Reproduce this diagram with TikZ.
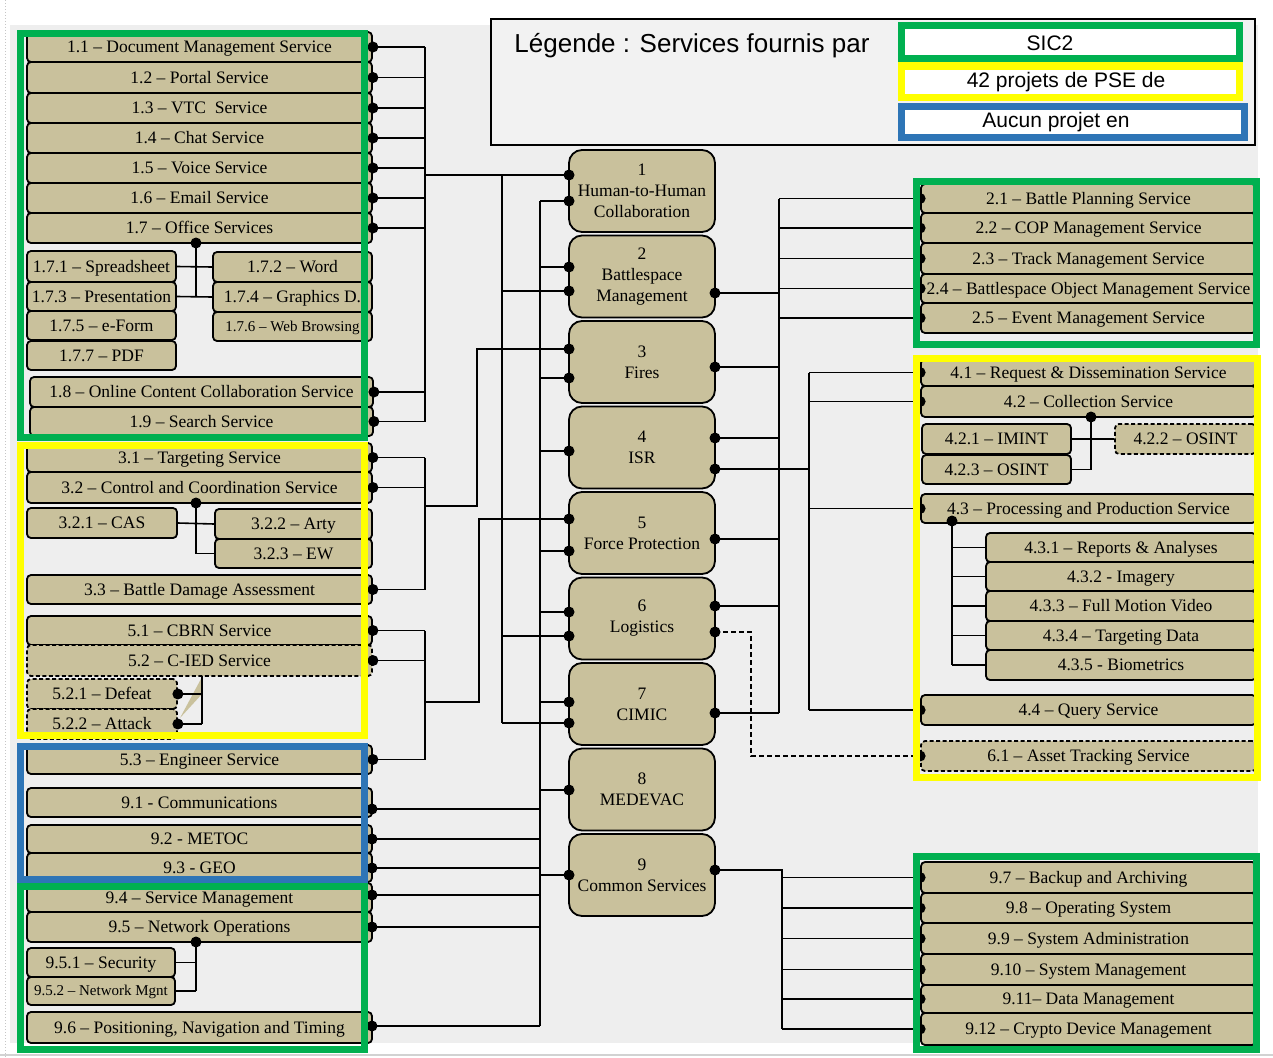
\documentclass[tikz,border=0pt]{standalone}
\usepackage{fontspec}
\setmainfont{Liberation Serif}
\newfontfamily\sansleg{Liberation Sans}
\definecolor{svctan}{RGB}{201,193,156}
\definecolor{bggray}{RGB}{238,238,238}
\definecolor{leggray}{RGB}{242,242,242}
\definecolor{fgreen}{RGB}{0,176,80}
\definecolor{fyellow}{RGB}{255,255,0}
\definecolor{fblue}{RGB}{46,117,182}
\tikzset{
  svcbox/.style={draw=black, line width=1.8pt, fill=svctan, rounded corners=4pt, inner sep=0pt, text height=14pt, text depth=3pt, font=\fontsize{17.5}{20}\selectfont},
  dashedbox/.style={dash pattern=on 4pt off 2.5pt},
  smalltxt/.style={font=\fontsize{15}{18}\selectfont, text height=12pt, text depth=2.5pt},
  cbox/.style={draw=black, line width=1.8pt, fill=svctan, rounded corners=13pt, minimum width=146pt, minimum height=82pt, align=center, inner sep=0pt, font=\fontsize{17.5}{21}\selectfont},
  wire/.style={draw=black, line width=1.6pt},
  dwire/.style={wire, dash pattern=on 5pt off 3pt},
  framebox/.style={line width=7pt},
  legtext/.style={font=\sansleg\fontsize{21}{24}\selectfont, inner sep=0pt},
}
\newcommand\svc[7][]{\node[svcbox,#1,minimum width={(#5-#3)*1pt},minimum height={(#6-#4)*1pt}] (#2) at ({(#3+#5)/2},{(#4+#6)/2}) {#7};}
\newcommand\portdot[1]{\fill (#1) circle (5.5);}
\begin{document}
\begin{tikzpicture}[x=1pt,y=-1pt]
\useasboundingbox (0,0) rectangle (1273,1057);
\fill[white] (0,0) rectangle (1273,1057);
\fill[bggray] (10,25) rectangle (1258,1043);
\draw[gray!45, line width=1pt, dotted] (5,0) -- (5,1057);
\draw[gray!35, line width=1.5pt] (0,1055) -- (1273,1055);

% ---------- legend ----------
\draw[line width=1.3pt, fill=leggray] (491,19) rectangle (1255,145);
\node[font=\sansleg\fontsize{26}{30}\selectfont, inner sep=0pt] (legtitle) at (692,46) {Légende : Services fournis par};
\draw[framebox, draw=fgreen, fill=white] (901.5,25.5) rectangle (1239.5,58.5);
\draw[framebox, draw=fyellow, fill=white] (901.5,66) rectangle (1239.5,97);
\draw[framebox, draw=fblue, fill=white] (901.5,106.5) rectangle (1244.5,137.5);
\node[legtext] (leg1) at (1050,43) {SIC2};
\node[legtext] (leg2) at (1066,82) {42 projets de PSE de};
\node[legtext] (leg3) at (1056,122) {Aucun projet en};

% ---------- left column ----------
\svc{b11}{27}{32}{372}{62}{1.1 – Document Management Service}
\svc{b12}{27}{62}{372}{93}{1.2 – Portal Service}
\svc{b13}{27}{93}{372}{123}{1.3 – VTC\enspace Service}
\svc{b14}{27}{123}{372}{153}{1.4 – Chat Service}
\svc{b15}{27}{153}{372}{183}{1.5 – Voice Service}
\svc{b16}{27}{183}{372}{213}{1.6 – Email Service}
\svc{b17}{27}{213}{372}{243}{1.7 – Office Services}
\svc{b171}{27}{251}{176}{282}{1.7.1 – Spreadsheet}
\svc{b173}{27}{282}{176}{311}{1.7.3 – Presentation}
\svc{b175}{27}{311}{176}{340}{1.7.5 – e-Form}
\svc{b177}{27}{341}{176}{370}{1.7.7 – PDF}
\svc{b172}{213}{252}{372}{282}{1.7.2 – Word}
\svc{b174}{213}{282}{372}{312}{1.7.4 – Graphics D.}
\svc[smalltxt]{b176}{213}{312}{372}{341}{1.7.6 – Web Browsing}
\svc{b18}{30}{377}{373}{407}{1.8 – Online Content Collaboration Service}
\svc{b19}{30}{407}{373}{436}{1.9 – Search Service}

\svc{b31}{27}{443}{372}{472}{3.1 – Targeting Service}
\svc{b32}{27}{472}{372}{503}{3.2 – Control and Coordination Service}
\svc{b321}{27}{508}{177}{538}{3.2.1 – CAS}
\svc{b322}{215}{509}{372}{539}{3.2.2 – Arty}
\svc{b323}{215}{539}{372}{568}{3.2.3 – EW}
\svc{b33}{27}{575}{372}{604}{3.3 – Battle Damage Assessment}
\svc{b51}{27}{616}{372}{645}{5.1 – CBRN Service}
\svc[dashedbox]{b52}{27}{645}{372}{676}{5.2 – C-IED Service}
\svc[dashedbox]{b521}{27}{679}{177}{709}{5.2.1 – Defeat}
\svc[dashedbox]{b522}{27}{709}{177}{739}{5.2.2 – Attack}
\fill[svctan] (180,718) -- (202,677) -- (202,694) -- cycle;

\svc{b53}{27}{745}{372}{774}{5.3 – Engineer Service}
\svc{b91}{27}{788}{372}{817}{9.1 - Communications}
\svc{b92}{27}{825}{372}{853}{9.2 - METOC}
\svc{b93}{27}{853}{372}{882}{9.3 - GEO}
\svc{b94}{27}{883}{372}{912}{9.4 – Service Management}
\svc{b95}{27}{912}{372}{942}{9.5 – Network Operations}
\svc{b951}{27}{948}{175}{977}{9.5.1 – Security}
\svc[smalltxt]{b952}{27}{977}{175}{1005}{9.5.2 – Network Mgnt}
\svc{b96}{27}{1012}{372}{1043}{9.6 – Positioning, Navigation and Timing}

% ---------- right column ----------
\svc{r21}{921}{184}{1256}{213}{2.1 – Battle Planning Service}
\svc{r22}{921}{213}{1256}{243}{2.2 – COP Management Service}
\svc{r23}{921}{243}{1256}{274}{2.3 – Track Management Service}
\svc{r24}{921}{274}{1256}{303}{2.4 – Battlespace Object Management Service}
\svc{r25}{921}{303}{1256}{333}{2.5 – Event Management Service}

\svc{r41}{921}{359}{1256}{386}{4.1 – Request \& Dissemination Service}
\svc{r42}{921}{386}{1256}{417}{4.2 – Collection Service}
\svc{r421}{922}{424}{1071}{454}{4.2.1 – IMINT}
\svc{r423}{922}{455}{1071}{484}{4.2.3 – OSINT}
\svc[dashedbox]{r422}{1115}{424}{1256}{454}{4.2.2 – OSINT}
\svc{r43}{921}{494}{1256}{523}{4.3 – Processing and Production Service}
\svc{r431}{986}{533}{1256}{562}{4.3.1 – Reports \& Analyses}
\svc{r432}{986}{562}{1256}{591}{4.3.2 - Imagery}
\svc{r433}{986}{591}{1256}{621}{4.3.3 – Full Motion Video}
\svc{r434}{986}{621}{1256}{650}{4.3.4 – Targeting Data}
\svc{r435}{986}{650}{1256}{680}{4.3.5 - Biometrics}
\svc{r44}{921}{695}{1256}{725}{4.4 – Query Service}
\svc[dashedbox]{r61}{921}{741}{1256}{771}{6.1 – Asset Tracking Service}

\svc{r97}{921}{862}{1256}{893}{9.7 – Backup and Archiving}
\svc{r98}{921}{893}{1256}{923}{9.8 – Operating System}
\svc{r99}{921}{923}{1256}{954}{9.9 – System Administration}
\svc{r910}{921}{954}{1256}{985}{9.10 – System Management}
\svc{r911}{921}{985}{1256}{1013}{9.11– Data Management}
\svc{r912}{921}{1013}{1256}{1045}{9.12 – Crypto Device Management}

% ---------- centre column ----------
\node[cbox] (c1) at (642,191) {1\\Human-to-Human\\Collaboration};
\node[cbox] (c2) at (642,276.5) {2\\Battlespace\\Management};
\node[cbox] (c3) at (642,362) {3\\Fires};
\node[cbox] (c4) at (642,447.5) {4\\ISR};
\node[cbox] (c5) at (642,533) {5\\Force Protection};
\node[cbox] (c6) at (642,618.5) {6\\Logistics};
\node[cbox] (c7) at (642,704) {7\\CIMIC};
\node[cbox] (c8) at (642,789.5) {8\\MEDEVAC};
\node[cbox] (c9) at (642,875) {9\\Common Services};

% ports
\coordinate (c1a) at (569,175);  \coordinate (c1b) at (569,201);
\coordinate (c2a) at (569,267);  \coordinate (c2b) at (569,291);  \coordinate (c2r) at (715,293);
\coordinate (c3a) at (569,349);  \coordinate (c3b) at (569,378);  \coordinate (c3r) at (715,367);
\coordinate (c4a) at (569,451);  \coordinate (c4r1) at (715,438); \coordinate (c4r2) at (715,469);
\coordinate (c5a) at (569,519);  \coordinate (c5b) at (569,551);  \coordinate (c5r) at (715,539);
\coordinate (c6a) at (569,612);  \coordinate (c6b) at (569,636);  \coordinate (c6r1) at (715,606); \coordinate (c6r2) at (715,632);
\coordinate (c7a) at (569,702);  \coordinate (c7b) at (569,723);  \coordinate (c7r) at (715,713);
\coordinate (c8a) at (569,790);
\coordinate (c9a) at (569,875);  \coordinate (c9r) at (715,870);
\coordinate (p91) at (372,809); \coordinate (p92) at (372,839); \coordinate (p93) at (372,868);
\coordinate (p94) at (372,895); \coordinate (p95) at (372,927); \coordinate (p96) at (372,1026);
\coordinate (d17) at (196,243); \coordinate (d32) at (196,503); \coordinate (d95) at (196,942);
\coordinate (j52) at (202,676);
\coordinate (d42) at (1091,417); \coordinate (d43) at (952,521);
\coordinate (j3) at (425,506); \coordinate (j5) at (425,702);
% bus x positions
\coordinate (xA) at (425,0); \coordinate (xB) at (502,0); \coordinate (xC) at (540,0);
\coordinate (xD) at (477,0); \coordinate (xE) at (479,0); \coordinate (xF) at (751,0);
\coordinate (xR1) at (779,0); \coordinate (xR2) at (809,0); \coordinate (xR3) at (782,0);

% ---------- wires, left ----------
\foreach \n in {b11,b12,b13,b14,b15,b16,b17,b18,b19}
  {\draw[wire] (\n.east) -- (\n.east -| xA);}
\draw[wire] (b11.east -| xA) -- (b19.east -| xA);
\draw[wire] (c1a -| xA) -- (c1a);
\draw[wire] (c1a -| xB) -- (c7b -| xB);
\foreach \p in {c2b,c6b,c7b} {\draw[wire] (\p -| xB) -- (\p);}
\draw[wire] (c1b -| xC) -- (p96 -| xC);
\foreach \p in {c1b,c2a,c3b,c4a,c5b,c6a,c7a,c8a,c9a} {\draw[wire] (\p -| xC) -- (\p);}
\foreach \p in {p91,p92,p93,p94,p95,p96} {\draw[wire] (\p) -- (\p -| xC);}
\foreach \n in {b31,b32,b33} {\draw[wire] (\n.east) -- (\n.east -| xA);}
\draw[wire] (b31.east -| xA) -- (b33.east -| xA);
\draw[wire] (j3) -| (c3a -| xD) -- (c3a);
\foreach \n in {b51,b52,b53} {\draw[wire] (\n.east) -- (\n.east -| xA);}
\draw[wire] (b51.east -| xA) -- (b53.east -| xA);
\draw[wire] (j5) -| (c5a -| xE) -- (c5a);
% sub-connectors left
\draw[wire] (d17) -- (d17 |- b174.west);
\draw[wire] (b171.east) -- (b172.west);
\draw[wire] (b173.east) -- (b174.west);
\draw[wire] (d32) -- (d32 |- b323.west) -- (b323.west);
\draw[wire] (b321.east) -- (b322.west);
\draw[wire] (j52) -- (j52 |- b522.east);
\draw[wire] (b521.east) -- (b521.east -| j52);
\draw[wire] (b522.east) -- (b522.east -| j52);
\draw[wire] (d95) -- (d95 |- b952.east);
\draw[wire] (b951.east) -- (b951.east -| d95);
\draw[wire] (b952.east) -- (b952.east -| d95);

% ---------- wires, right ----------
\draw[wire] (r21.west -| xR1) -- (c7r -| xR1);
\foreach \n in {r21,r22,r23,r24,r25} {\draw[wire] (\n.west -| xR1) -- (\n.west);}
\foreach \p in {c2r,c3r,c4r1,c5r,c6r1,c7r} {\draw[wire] (\p) -- (\p -| xR1);}
\draw[wire] (r41.west -| xR2) -- (r44.west -| xR2);
\foreach \n in {r41,r42,r43,r44} {\draw[wire] (\n.west -| xR2) -- (\n.west);}
\draw[wire] (c4r2) -- (c4r2 -| xR2);
\draw[dwire] (c6r2) -| (r61.west -| xF) -- (r61.west);
\draw[wire] (c9r) -- (c9r -| xR3) -- (r912.west -| xR3);
\foreach \n in {r97,r98,r99,r910,r911,r912} {\draw[wire] (\n.west -| xR3) -- (\n.west);}
% sub-connectors right
\draw[wire] (d42) -- (d42 |- r423.east) -- (r423.east);
\draw[wire] (r421.east) -- (r422.west);
\draw[wire] (d43) -- (d43 |- r435.west);
\foreach \n in {r431,r432,r433,r434,r435} {\draw[wire] (d43 |- \n.west) -- (\n.west);}

% ---------- dots ----------
\foreach \p in {b11.east,b12.east,b13.east,b14.east,b15.east,b16.east,b17.east,b18.east,b19.east,
  b31.east,b32.east,b33.east,b51.east,b52.east,b53.east,p91,p92,p93,p94,p95,p96,
  c1a,c1b,c2a,c2b,c2r,c3a,c3b,c3r,c4a,c4r1,c4r2,c5a,c5b,c5r,c6a,c6b,c6r1,c6r2,c7a,c7b,c7r,c8a,c9a,c9r,
  r21.west,r22.west,r23.west,r24.west,r25.west,r41.west,r42.west,r43.west,r44.west,r61.west,
  r97.west,r98.west,r99.west,r910.west,r911.west,r912.west,
  d17,d32,d95,d42,d43,b521.east,b522.east}
  {\portdot{\p}}

% ---------- frames ----------
\draw[framebox, fgreen] (20.5,33.5) rectangle (364.5,437.5);
\draw[framebox, fyellow] (20.5,445.5) rectangle (364.5,735);
\draw[framebox, fblue] (20.5,746.5) rectangle (364.5,879);
\draw[framebox, fgreen] (20.5,886.5) rectangle (364.5,1049.5);
\draw[framebox, fgreen] (916.5,181.5) rectangle (1256.5,344.5);
\draw[framebox, fyellow] (916.5,358.5) rectangle (1257.5,777.5);
\draw[framebox, fgreen] (916.5,856.5) rectangle (1256.5,1049.5);
\end{tikzpicture}
\end{document}
